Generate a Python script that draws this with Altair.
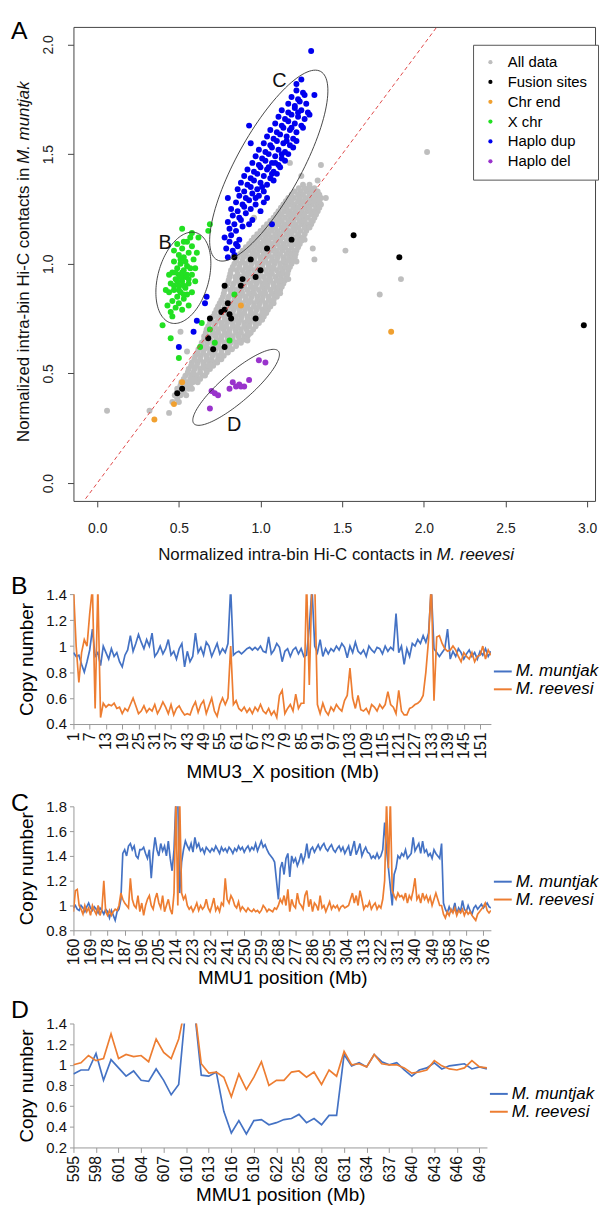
import altair as alt
import numpy as np
import pandas as pd

FONT = "Liberation Sans"

# ===================== Panel A data =====================
gray_row_y = [0.37, 0.40, 0.43, 0.46, 0.49, 0.52, 0.55, 0.58, 0.61, 0.64, 0.67, 0.70,
              0.73, 0.76, 0.79, 0.82, 0.85, 0.88, 0.91, 0.94, 0.97, 1.00, 1.03, 1.06,
              1.09, 1.12, 1.15, 1.18, 1.21, 1.24, 1.27, 1.30, 1.33, 1.36]
gray_row_x = [
    [0.46, 0.50],
    [0.475, 0.51, 0.545],
    [0.49, 0.525, 0.56, 0.58],
    [0.515, 0.55, 0.585, 0.615],
    [0.54, 0.575, 0.61, 0.645, 0.66],
    [0.56, 0.595, 0.63, 0.665, 0.69],
    [0.58, 0.615, 0.65, 0.685, 0.72, 0.735],
    [0.60, 0.635, 0.67, 0.705, 0.74, 0.775],
    [0.62, 0.655, 0.69, 0.725, 0.76, 0.795, 0.825],
    [0.64, 0.675, 0.71, 0.745, 0.78, 0.815, 0.85, 0.88],
    [0.655, 0.69, 0.725, 0.76, 0.795, 0.83, 0.865, 0.90, 0.92],
    [0.67, 0.705, 0.74, 0.775, 0.81, 0.845, 0.88, 0.915, 0.955],
    [0.69, 0.725, 0.76, 0.795, 0.83, 0.865, 0.90, 0.935, 0.97, 0.99],
    [0.71, 0.745, 0.78, 0.815, 0.85, 0.885, 0.92, 0.955, 0.99, 1.02],
    [0.73, 0.765, 0.80, 0.835, 0.87, 0.905, 0.94, 0.975, 1.01, 1.045],
    [0.75, 0.785, 0.82, 0.855, 0.89, 0.925, 0.96, 0.995, 1.03, 1.065, 1.08],
    [0.77, 0.805, 0.84, 0.875, 0.91, 0.945, 0.98, 1.015, 1.05, 1.085, 1.10],
    [0.78, 0.815, 0.85, 0.885, 0.92, 0.955, 0.99, 1.025, 1.06, 1.095, 1.12],
    [0.80, 0.835, 0.87, 0.905, 0.94, 0.975, 1.01, 1.045, 1.08, 1.115, 1.14],
    [0.81, 0.845, 0.88, 0.915, 0.95, 0.985, 1.02, 1.055, 1.09, 1.125, 1.16],
    [0.82, 0.855, 0.89, 0.925, 0.96, 0.995, 1.03, 1.065, 1.10, 1.135, 1.17],
    [0.84, 0.875, 0.91, 0.945, 0.98, 1.015, 1.05, 1.085, 1.12, 1.155, 1.19],
    [0.86, 0.895, 0.93, 0.965, 1.00, 1.035, 1.07, 1.105, 1.14, 1.175, 1.21],
    [0.89, 0.925, 0.96, 0.995, 1.03, 1.065, 1.10, 1.135, 1.17, 1.205, 1.22],
    [0.93, 0.965, 1.00, 1.035, 1.07, 1.105, 1.14, 1.175, 1.21, 1.24],
    [0.96, 0.995, 1.03, 1.065, 1.10, 1.135, 1.17, 1.205, 1.24, 1.26],
    [1.00, 1.035, 1.07, 1.105, 1.14, 1.175, 1.21, 1.245, 1.28],
    [1.04, 1.075, 1.11, 1.145, 1.18, 1.215, 1.25, 1.285, 1.31],
    [1.08, 1.115, 1.15, 1.185, 1.22, 1.255, 1.29, 1.33],
    [1.11, 1.145, 1.18, 1.215, 1.25, 1.285, 1.32, 1.35],
    [1.14, 1.175, 1.21, 1.245, 1.28, 1.315, 1.35, 1.37],
    [1.17, 1.205, 1.24, 1.275, 1.31, 1.345, 1.37],
    [1.21, 1.245, 1.28, 1.315, 1.35],
    [1.26, 1.30],
]
# second, offset layer of the dense cloud (fills the gaps between rows)
gray_row2_y = [0.385, 0.415, 0.445, 0.475, 0.505, 0.535, 0.565, 0.595, 0.625, 0.655,
               0.685, 0.715, 0.745, 0.775, 0.805, 0.835, 0.865, 0.895, 0.925, 0.955,
               0.985, 1.015, 1.045, 1.075, 1.105, 1.135, 1.165, 1.195, 1.225, 1.255,
               1.285, 1.315, 1.345]
gray_row2_x = [
    [0.49],
    [0.49, 0.53],
    [0.51, 0.545, 0.57],
    [0.53, 0.57, 0.60, 0.63],
    [0.555, 0.59, 0.63, 0.67],
    [0.575, 0.61, 0.65, 0.68, 0.71],
    [0.595, 0.63, 0.67, 0.70, 0.74, 0.76],
    [0.615, 0.65, 0.69, 0.72, 0.76, 0.80],
    [0.635, 0.67, 0.71, 0.74, 0.78, 0.81, 0.85],
    [0.655, 0.69, 0.73, 0.76, 0.80, 0.83, 0.87, 0.90],
    [0.665, 0.71, 0.74, 0.78, 0.81, 0.85, 0.88, 0.92, 0.94],
    [0.68, 0.72, 0.76, 0.79, 0.83, 0.86, 0.90, 0.93, 0.97],
    [0.70, 0.74, 0.78, 0.81, 0.85, 0.88, 0.92, 0.95, 0.99, 1.01],
    [0.72, 0.76, 0.80, 0.83, 0.87, 0.90, 0.94, 0.97, 1.01, 1.035],
    [0.74, 0.78, 0.82, 0.85, 0.89, 0.92, 0.96, 0.99, 1.03, 1.06],
    [0.76, 0.80, 0.84, 0.87, 0.91, 0.94, 0.98, 1.01, 1.05, 1.08],
    [0.775, 0.82, 0.86, 0.89, 0.93, 0.96, 1.00, 1.03, 1.07, 1.10, 1.12],
    [0.79, 0.83, 0.87, 0.90, 0.94, 0.97, 1.01, 1.04, 1.08, 1.11, 1.13],
    [0.805, 0.85, 0.89, 0.92, 0.96, 0.99, 1.03, 1.06, 1.10, 1.13, 1.15],
    [0.815, 0.86, 0.90, 0.93, 0.97, 1.00, 1.04, 1.07, 1.11, 1.14, 1.165],
    [0.83, 0.87, 0.91, 0.94, 0.98, 1.01, 1.05, 1.08, 1.12, 1.15, 1.18],
    [0.85, 0.89, 0.93, 0.96, 1.00, 1.03, 1.07, 1.10, 1.14, 1.17, 1.20],
    [0.875, 0.91, 0.95, 0.98, 1.02, 1.05, 1.09, 1.12, 1.16, 1.19, 1.215],
    [0.91, 0.945, 0.98, 1.01, 1.05, 1.08, 1.12, 1.15, 1.19, 1.23],
    [0.945, 0.98, 1.02, 1.05, 1.09, 1.12, 1.16, 1.19, 1.23, 1.25],
    [0.98, 1.02, 1.05, 1.09, 1.12, 1.16, 1.19, 1.23, 1.27],
    [1.02, 1.06, 1.09, 1.13, 1.16, 1.20, 1.23, 1.27, 1.30],
    [1.06, 1.10, 1.13, 1.17, 1.20, 1.24, 1.27, 1.31, 1.32],
    [1.095, 1.13, 1.17, 1.20, 1.24, 1.27, 1.31, 1.34],
    [1.125, 1.16, 1.20, 1.23, 1.27, 1.30, 1.34, 1.36],
    [1.155, 1.19, 1.23, 1.26, 1.30, 1.33, 1.36],
    [1.19, 1.23, 1.26, 1.30, 1.33, 1.36],
    [1.235, 1.27, 1.30, 1.33],
]
gray_extra = [(0.06, 0.33), (0.32, 0.33), (0.44, 0.32), (2.02, 1.51), (1.52, 1.06),
              (1.86, 0.93), (1.73, 0.86), (1.37, 1.45), (1.18, 1.46), (0.96, 1.21),
              (1.32, 1.07), (1.33, 1.02), (0.92, 0.65), (0.51, 0.69), (1.35, 1.38),
              (0.93, 0.68), (0.99, 0.74), (1.10, 0.86), (1.17, 0.93), (1.22, 1.01),
              (1.27, 1.11), (0.64, 0.62), (0.59, 0.50), (0.55, 0.60), (1.40, 1.30),
              (1.25, 1.40)]

xchr_pts = [(0.55, 1.10), (0.58, 1.08), (0.52, 1.07), (0.56, 1.05), (0.50, 1.04),
            (0.53, 1.03), (0.59, 1.02), (0.47, 1.01), (0.51, 1.00), (0.55, 0.99),
            (0.49, 0.98), (0.53, 0.97), (0.57, 0.98), (0.46, 0.96), (0.50, 0.95),
            (0.54, 0.94), (0.58, 0.95), (0.48, 0.93), (0.52, 0.92), (0.56, 0.91),
            (0.45, 0.91), (0.50, 0.90), (0.54, 0.89), (0.47, 0.88), (0.51, 0.87),
            (0.55, 0.86), (0.44, 0.87), (0.49, 0.85), (0.53, 0.84), (0.46, 0.83),
            (0.50, 0.82), (0.43, 0.81), (0.48, 0.80), (0.45, 0.78), (0.52, 0.79),
            (0.60, 0.92), (0.61, 1.05), (0.47, 1.06), (0.49, 1.09), (0.53, 1.10),
            (0.57, 1.12), (0.44, 0.95), (0.42, 0.88), (0.58, 0.87), (0.56, 0.81),
            (0.60, 0.98), (0.51, 0.94), (0.53, 0.90), (0.49, 0.92), (0.55, 0.95),
            (0.52, 0.96), (0.50, 0.88), (0.54, 1.01), (0.48, 0.96), (0.56, 0.93),
            (0.51, 1.02), (0.53, 0.86), (0.47, 0.90), (0.52, 1.16), (0.62, 1.12),
            (0.68, 1.15), (0.69, 1.18), (0.40, 0.72), (0.45, 0.66), (0.50, 0.57),
            (0.69, 0.70), (0.63, 0.62), (0.72, 0.64), (0.81, 0.65), (0.84, 0.86),
            (0.58, 1.14), (0.64, 0.73), (0.46, 0.76)]

dup_pts = [(0.80, 1.03), (0.84, 1.04), (0.79, 1.07), (0.83, 1.06), (0.86, 1.08),
           (0.81, 1.10), (0.85, 1.09), (0.78, 1.12), (0.82, 1.13), (0.87, 1.11),
           (0.81, 1.16), (0.85, 1.15), (0.89, 1.17), (0.80, 1.19), (0.84, 1.18),
           (0.88, 1.20), (0.93, 1.18), (0.83, 1.22), (0.87, 1.21), (0.91, 1.23),
           (0.95, 1.20), (0.82, 1.25), (0.86, 1.24), (0.90, 1.26), (0.94, 1.25),
           (1.00, 1.24), (0.85, 1.28), (0.89, 1.27), (0.93, 1.29), (0.97, 1.27),
           (1.02, 1.28), (0.80, 1.30), (0.87, 1.31), (0.91, 1.30), (0.95, 1.32),
           (0.99, 1.31), (1.04, 1.30), (0.86, 1.34), (0.90, 1.33), (0.94, 1.35),
           (0.98, 1.34), (1.02, 1.33), (0.88, 1.37), (0.92, 1.36), (0.96, 1.38),
           (1.00, 1.37), (1.04, 1.36), (1.08, 1.38), (0.90, 1.40), (0.94, 1.39),
           (0.98, 1.41), (1.02, 1.40), (1.06, 1.39), (1.10, 1.41), (0.92, 1.43),
           (0.96, 1.42), (1.00, 1.44), (1.04, 1.43), (1.08, 1.42), (1.12, 1.44),
           (0.95, 1.46), (0.99, 1.45), (1.03, 1.47), (1.07, 1.46), (1.11, 1.45),
           (1.15, 1.47), (0.97, 1.49), (1.01, 1.48), (1.05, 1.50), (1.09, 1.49),
           (1.13, 1.48), (1.17, 1.50), (0.99, 1.52), (1.03, 1.51), (1.07, 1.53),
           (1.11, 1.52), (1.15, 1.51), (1.20, 1.53), (0.94, 1.55), (1.02, 1.55),
           (1.06, 1.54), (1.10, 1.56), (1.14, 1.55), (1.18, 1.54), (1.22, 1.56),
           (1.04, 1.58), (1.08, 1.57), (1.12, 1.59), (1.16, 1.58), (1.20, 1.57),
           (1.06, 1.61), (1.10, 1.60), (1.14, 1.62), (1.18, 1.61), (1.22, 1.60),
           (1.26, 1.62), (0.93, 1.63), (1.09, 1.64), (1.13, 1.63), (1.17, 1.65),
           (1.21, 1.64), (1.25, 1.63), (1.11, 1.67), (1.15, 1.66), (1.19, 1.68),
           (1.23, 1.67), (1.27, 1.66), (1.30, 1.68), (1.13, 1.70), (1.17, 1.69),
           (1.21, 1.71), (1.25, 1.70), (1.29, 1.69), (1.17, 1.73), (1.21, 1.72),
           (1.24, 1.74), (1.28, 1.73), (1.19, 1.76), (1.23, 1.75), (1.27, 1.77),
           (1.33, 1.77), (1.22, 1.79), (1.26, 1.78), (1.22, 1.82), (1.25, 1.84),
           (1.31, 1.97), (1.05, 1.44), (1.09, 1.46), (1.13, 1.50), (1.07, 1.41),
           (1.01, 1.35), (0.97, 1.30), (1.16, 1.56), (1.19, 1.62), (1.23, 1.69),
           (1.07, 1.18), (0.66, 0.82), (0.67, 0.85), (0.61, 0.74), (0.59, 0.69),
           (0.50, 0.62)]

del_pts = [(0.99, 0.56), (1.03, 0.55), (0.93, 0.47), (0.83, 0.46), (0.85, 0.44),
           (0.88, 0.44), (0.90, 0.44), (0.81, 0.43), (0.87, 0.45), (0.70, 0.42),
           (0.74, 0.40), (0.72, 0.41), (0.69, 0.34)]

chrend_pts = [(1.80, 0.69), (0.88, 0.81), (0.52, 0.46), (0.47, 0.36), (0.35, 0.29)]

fusion_pts = [(1.57, 1.13), (1.85, 1.03), (1.19, 1.11), (1.04, 1.07), (0.94, 1.02),
              (0.84, 1.03), (1.00, 0.97), (0.97, 0.94), (0.89, 0.93), (0.88, 0.90),
              (0.78, 0.90), (0.80, 0.82), (0.76, 0.78), (0.78, 0.79), (0.81, 0.77),
              (0.82, 0.75), (0.69, 0.75), (0.97, 0.75), (0.68, 0.66), (0.71, 0.61),
              (0.78, 0.62), (0.52, 0.43), (0.49, 0.41), (2.98, 0.72)]

groups = ["All data", "Fusion sites", "Chr end", "X chr", "Haplo dup", "Haplo del"]
group_colors = ["#BEBEBE", "#000000", "#F0A030", "#22E022", "#0000EE", "#9933CC"]

# ellipses drawn around groups B, C, D (center, semi-axis vectors in data units)
ell_names = ["C", "B", "D"]
ell_cx = [1.0505, 0.5275, 0.8505]
ell_cy = [1.4475, 0.936, 0.4365]
ell_ax = [0.3175, 0.0765, 0.2585]
ell_ay = [0.4295, 0.206, 0.1655]
ell_bx = [0.174, 0.150, 0.0594]
ell_by = [-0.0713, -0.0309, -0.0514]
ell_lab_x = [1.116, 0.416, 0.839]
ell_lab_y = [1.831, 1.093, 0.264]

# ===================== Panel B data (MMU3_X) =====================
b_pos = list(range(1, 156))
b_mj = [0.95, 0.92, 0.93, 0.86, 0.80, 0.88, 0.97, 1.13, 0.92, 0.95,
        0.85, 1.00, 0.95, 0.90, 0.98, 0.92, 0.95, 0.88, 0.84, 0.93,
        0.97, 1.08, 0.96, 1.02, 1.09, 1.03, 0.98, 1.05, 1.00, 1.10,
        0.92, 0.95, 1.00, 0.94, 0.98, 1.05, 0.93, 0.96, 0.90, 0.98,
        1.02, 0.84, 0.96, 0.88, 0.92, 1.10, 0.95, 0.99, 0.93, 1.03,
        1.00, 0.92, 0.97, 1.02, 0.94, 0.98, 0.95, 1.02, 1.45, 0.93,
        0.95, 0.96, 0.94, 0.96, 0.98, 0.99, 0.97, 0.99, 0.97, 1.00,
        0.96, 0.95, 1.07, 0.94, 0.97, 1.02, 0.99, 0.88, 0.96, 0.98,
        0.92, 0.97, 0.99, 0.94, 0.98, 0.92, 0.93, 1.15, 1.45, 1.00,
        0.95, 1.05, 0.92, 0.98, 0.94, 0.98, 0.96, 1.00, 0.97, 1.02,
        0.99, 0.91, 1.00, 0.95, 1.03, 0.96, 0.94, 0.97, 0.92, 1.00,
        0.97, 0.95, 0.99, 0.98, 0.94, 1.00, 0.96, 0.99, 0.97, 1.25,
        0.95, 1.00, 0.86, 0.98, 0.92, 1.02, 1.00, 1.05, 1.02, 1.08,
        1.03, 1.10, 1.45, 0.98, 0.95, 0.92, 0.95, 0.98, 1.13, 0.90,
        0.96, 0.92, 0.98, 0.95, 0.90, 0.94, 0.97, 0.92, 0.95, 0.90,
        0.96, 0.93, 0.98, 0.92, 0.96]
b_rv = [1.45, 1.00, 0.72, 0.95, 1.05, 1.00, 1.25, 1.45, 0.52, 1.45,
        0.45, 0.56, 0.53, 0.55, 0.54, 0.56, 0.52, 0.53, 0.48, 0.52,
        0.50, 0.55, 0.60, 0.54, 0.48, 0.50, 0.54, 0.49, 0.52, 0.50,
        0.55, 0.48, 0.52, 0.57, 0.53, 0.48, 0.55, 0.47, 0.52, 0.54,
        0.50, 0.47, 0.48, 0.47, 0.53, 0.57, 0.49, 0.55, 0.58, 0.48,
        0.54, 0.60, 0.50, 0.46, 0.55, 0.60, 0.55, 0.60, 1.00, 0.55,
        0.58, 0.52, 0.50, 0.53, 0.49, 0.52, 0.48, 0.53, 0.50, 0.55,
        0.50, 0.48, 0.52, 0.47, 0.50, 0.45, 0.62, 0.66, 0.48, 0.52,
        0.55, 0.50, 0.63, 0.52, 0.56, 0.56, 1.50, 0.70, 1.50, 1.50,
        0.55, 0.48, 0.56, 0.50, 0.47, 0.53, 0.50, 0.55, 0.52, 0.50,
        0.58, 0.62, 0.83, 0.60, 0.52, 0.62, 0.51, 0.50, 0.52, 0.48,
        0.55, 0.53, 0.50, 0.55, 0.52, 0.55, 0.65, 0.55, 0.53, 0.48,
        0.66, 0.50, 0.47, 0.47, 0.52, 0.53, 0.55, 0.56, 0.58, 0.62,
        0.80, 1.05, 1.50, 0.58, 1.07, 1.08, 1.02, 0.98, 0.96, 0.97,
        1.00, 0.97, 0.92, 0.88, 0.95, 0.92, 0.90, 0.95, 0.88, 0.92,
        0.93, 1.00, 0.90, 0.97, 0.93]
b_ticks = [1, 7, 13, 19, 25, 31, 37, 43, 49, 55, 61, 67, 73, 79, 85, 91, 97, 103,
           109, 115, 121, 127, 133, 139, 145, 151]

# ===================== Panel C data (MMU1 160-380) =====================
c_pos = list(range(160, 381))
c_mj = [0.98, 1.00, 0.97, 0.96, 1.00, 0.98, 0.95, 0.99, 1.02, 0.98,
        0.96, 0.99, 0.97, 0.94, 0.98, 0.96, 0.93, 0.97, 0.95, 0.90,
        0.96, 0.92, 0.88, 0.95, 0.97, 1.05, 1.42, 1.45, 1.40, 1.48,
        1.50, 1.45, 1.48, 1.40, 1.38, 1.45, 1.45, 1.47, 1.42, 1.38,
        1.45, 1.22, 1.42, 1.55, 1.45, 1.40, 1.50, 1.44, 1.48, 1.40,
        1.52, 1.38, 1.28, 1.45, 1.85, 1.85, 1.10, 1.35, 1.45, 1.52,
        1.48, 1.45, 1.50, 1.43, 1.55, 1.47, 1.50, 1.44, 1.46, 1.42,
        1.47, 1.45, 1.43, 1.46, 1.44, 1.48, 1.45, 1.42, 1.47, 1.44,
        1.46, 1.43, 1.47, 1.45, 1.42, 1.46, 1.44, 1.48, 1.45, 1.47,
        1.43, 1.46, 1.48, 1.44, 1.47, 1.45, 1.50, 1.44, 1.48, 1.52,
        1.47, 1.49, 1.45, 1.42, 1.40, 1.38, 1.35, 1.20, 1.05, 1.30,
        1.35, 1.25, 1.38, 1.42, 1.23, 1.40, 1.35, 1.38, 1.32, 1.36,
        1.42, 1.35, 1.40, 1.50, 1.38, 1.45, 1.47, 1.43, 1.46, 1.49,
        1.45, 1.48, 1.50, 1.46, 1.44, 1.47, 1.49, 1.45, 1.43, 1.46,
        1.48, 1.44, 1.47, 1.42, 1.45, 1.48, 1.40, 1.46, 1.52, 1.41,
        1.45, 1.50, 1.40, 1.44, 1.47, 1.43, 1.42, 1.38, 1.40, 1.38,
        1.42, 1.38, 1.40, 1.45, 1.67, 1.45, 1.30, 1.15, 1.00, 1.25,
        1.30, 1.40, 1.38, 1.42, 1.40, 1.45, 1.38, 1.40, 1.42, 1.55,
        1.44, 1.47, 1.50, 1.42, 1.52, 1.43, 1.45, 1.40, 1.42, 1.38,
        1.45, 1.42, 1.40, 1.38, 1.50, 1.02, 0.97, 0.94, 0.99, 0.95,
        0.96, 1.02, 0.93, 0.98, 0.95, 1.04, 0.97, 0.95, 1.00, 0.96,
        0.93, 0.98, 1.00, 0.97, 0.99, 1.01, 0.98, 1.00, 1.02, 0.99,
        0.98]
c_rv = [0.95, 1.12, 1.13, 1.00, 0.97, 0.93, 1.00, 0.95, 0.98, 0.92,
        1.00, 0.96, 0.93, 1.00, 0.92, 0.97, 1.20, 0.95, 0.92, 0.96,
        0.92, 0.95, 0.97, 0.96, 1.00, 1.10, 1.05, 1.02, 1.00, 0.98,
        1.22, 1.05, 1.00, 0.98, 1.08, 0.95, 1.02, 0.92, 1.00, 1.05,
        1.08, 1.00, 0.97, 1.05, 1.10, 1.02, 0.98, 1.08, 0.95, 1.00,
        1.05, 0.97, 0.93, 1.10, 1.85, 1.00, 1.85, 1.10, 1.05, 1.08,
        1.00, 0.97, 0.99, 0.95, 0.98, 1.02, 0.96, 1.00, 0.97, 0.99,
        1.05, 0.98, 0.95, 1.00, 1.06, 0.96, 0.99, 0.95, 1.02, 1.00,
        1.22, 1.05, 1.02, 1.08, 1.05, 1.00, 0.98, 1.03, 0.96, 0.99,
        0.97, 0.95, 0.98, 0.96, 0.95, 0.97, 0.95, 0.96, 0.94, 0.96,
        1.00, 0.98, 0.95, 0.97, 0.96, 0.95, 0.98, 0.97, 1.00, 1.05,
        1.02, 1.08, 1.00, 1.13, 0.95, 1.05, 1.00, 0.98, 1.10, 1.02,
        1.00, 0.97, 1.08, 1.12, 0.99, 1.05, 0.95, 1.02, 1.00, 0.96,
        1.08, 0.98, 1.00, 0.95, 0.99, 1.03, 0.97, 1.00, 0.98, 1.00,
        0.96, 0.99, 1.00, 0.98, 0.99, 1.00, 1.05, 1.10, 1.02, 1.08,
        1.00, 1.12, 1.05, 0.97, 1.00, 0.99, 1.03, 0.97, 1.00, 1.02,
        0.97, 1.00, 0.98, 1.05, 1.20, 1.85, 1.30, 1.85, 1.12, 1.08,
        1.05, 1.10, 1.07, 1.08, 1.05, 1.10, 1.02, 1.08, 1.05, 1.12,
        1.22, 1.05, 1.08, 1.02, 1.10, 1.05, 1.08, 1.03, 1.07, 1.00,
        1.05, 1.10, 1.05, 1.00, 1.00, 0.93, 0.90, 0.95, 0.92, 0.97,
        0.94, 0.98, 0.92, 0.96, 0.94, 0.97, 0.92, 0.96, 0.93, 0.95,
        0.92, 0.90, 0.88, 0.93, 0.95, 0.97, 0.99, 1.02, 0.96, 0.94,
        0.96]
c_ticks = [160, 169, 178, 187, 196, 205, 214, 223, 232, 241, 250, 259, 268, 277,
           286, 295, 304, 313, 322, 331, 340, 349, 358, 367, 376]

# ===================== Panel D data (MMU1 595-650) =====================
d_pos = list(range(595, 651))
d_mj = [0.91, 0.95, 0.95, 1.11, 0.85, 1.05, 0.97, 0.89, 0.94, 0.85,
        0.84, 0.96, 0.85, 0.71, 0.81, 1.60, 1.60, 0.90, 0.89, 0.93,
        0.55, 0.34, 0.46, 0.33, 0.46, 0.47, 0.42, 0.44, 0.47, 0.48,
        0.52, 0.44, 0.48, 0.42, 0.51, 0.51, 1.10, 0.99, 1.02, 0.98,
        1.10, 1.03, 1.00, 1.02, 0.95, 0.89, 0.95, 0.97, 1.02, 0.96,
        0.99, 1.00, 1.01, 0.96, 0.98, 0.96]
d_rv = [1.00, 1.02, 1.09, 1.04, 1.06, 1.30, 1.06, 1.10, 1.08, 1.09,
        1.03, 1.25, 1.12, 1.06, 1.25, 1.60, 1.60, 1.01, 0.92, 0.93,
        0.88, 0.69, 0.91, 0.76, 0.88, 1.03, 0.80, 0.85, 0.85, 0.93,
        0.94, 0.88, 0.93, 0.81, 0.95, 0.89, 1.13, 1.00, 1.01, 0.98,
        1.10, 1.01, 1.00, 1.00, 0.97, 0.92, 0.93, 0.95, 1.04, 0.99,
        0.96, 0.95, 0.97, 1.04, 0.98, 0.97]
d_ticks = [595, 598, 601, 604, 607, 610, 613, 616, 619, 622, 625, 628, 631, 634,
           637, 640, 643, 646, 649]

species = ["M. muntjak", "M. reevesi"]
species_colors = ["#4472C4", "#ED7D31"]

# ===================== Build Panel A =====================
WA, HA = 526, 478
rows = []
for ry, rx in [(gray_row_y, gray_row_x), (gray_row2_y, gray_row2_x)]:
    for yv, xs in zip(ry, rx):
        for xv in xs:
            rows.append((xv, yv, "All data"))
for xv, yv in gray_extra:
    rows.append((xv, yv, "All data"))
for name, pts in [("X chr", xchr_pts), ("Haplo dup", dup_pts), ("Haplo del", del_pts),
                  ("Chr end", chrend_pts), ("Fusion sites", fusion_pts)]:
    for xv, yv in pts:
        rows.append((xv, yv, name))
pts_df = pd.DataFrame(rows, columns=["x", "y", "group"])

xs_a = alt.Scale(domain=[-0.1457, 3.0486], nice=False, zero=False)
ys_a = alt.Scale(domain=[-0.0814, 2.080], nice=False, zero=False)
x_axis_a = alt.Axis(values=[0, 0.5, 1, 1.5, 2, 2.5, 3], format=".1f", title=None,
                    grid=False, domain=False, tickSize=6, tickColor="#444",
                    labelFontSize=14, labelPadding=15, labelFlush=False,
                    labelOverlap=False, labelColor="#222")
y_axis_a = alt.Axis(values=[0, 0.5, 1, 1.5, 2], format=".1f", title=None,
                    grid=False, domain=False, tickSize=6, tickColor="#444",
                    labelFontSize=14, labelPadding=12, labelAngle=270,
                    labelAlign="center", labelBaseline="bottom", labelFlush=False,
                    labelOverlap=False, labelColor="#222")
XA = alt.X("x:Q", scale=xs_a, axis=x_axis_a)
YA = alt.Y("y:Q", scale=ys_a, axis=y_axis_a)

scatter = alt.Chart(pts_df).mark_circle(size=36, opacity=1).encode(
    x=XA, y=YA,
    color=alt.Color("group:N",
                    scale=alt.Scale(domain=groups, range=group_colors),
                    legend=alt.Legend(title=None, orient="none", legendX=403, legendY=18,
                                      strokeColor="#555", fillColor="white", padding=10,
                                      symbolType="circle", symbolSize=18,
                                      labelFontSize=15, labelOffset=10, rowPadding=4,
                                      labelFont=FONT, labelColor="black",
                                      labelFontStyle="normal")),
)

diag_df = pd.DataFrame({"x": [-0.3, 2.3], "y": [-0.3, 2.3]})
diag = alt.Chart(diag_df).mark_line(clip=True, color="#E04848", strokeWidth=1,
                                    strokeDash=[4, 3]).encode(x=XA, y=YA)

t = np.linspace(0, 2 * np.pi, 121)
ell_rows = []
for i, nm in enumerate(ell_names):
    ex = ell_cx[i] + ell_ax[i] * np.cos(t) + ell_bx[i] * np.sin(t)
    ey = ell_cy[i] + ell_ay[i] * np.cos(t) + ell_by[i] * np.sin(t)
    for k in range(len(t)):
        ell_rows.append((nm, k, float(ex[k]), float(ey[k])))
ell_df = pd.DataFrame(ell_rows, columns=["e", "k", "x", "y"])
ellipses = alt.Chart(ell_df).mark_line(color="#333", strokeWidth=0.9).encode(
    x=XA, y=YA, detail="e:N", order="k:Q")

lab_df = pd.DataFrame({"x": ell_lab_x, "y": ell_lab_y, "t": ell_names})
ell_labels = alt.Chart(lab_df).mark_text(fontSize=20, font=FONT, color="#111").encode(
    x=XA, y=YA, text="t:N")

LETTER_X = -63
letter_a = alt.Chart(pd.DataFrame({"t": ["A"]})).mark_text(
    fontSize=25, font=FONT, align="left", baseline="top", color="black").encode(
    x=alt.value(LETTER_X), y=alt.value(-8), text="t:N")
xt1 = alt.Chart(pd.DataFrame({"t": ["Normalized intra-bin Hi-C contacts in"]})).mark_text(
    fontSize=17, font=FONT, align="right", baseline="middle", color="#111").encode(
    x=alt.value(362), y=alt.value(HA + 55), text="t:N")
xt2 = alt.Chart(pd.DataFrame({"t": ["M. reevesi"]})).mark_text(
    fontSize=17, font=FONT, align="left", baseline="middle", fontStyle="italic",
    color="#111").encode(x=alt.value(366), y=alt.value(HA + 55), text="t:N")
yt1 = alt.Chart(pd.DataFrame({"t": ["Normalized intra-bin Hi-C contacts in"]})).mark_text(
    fontSize=17, font=FONT, align="right", baseline="middle", angle=270,
    color="#111").encode(x=alt.value(-50), y=alt.value(142), text="t:N")
yt2 = alt.Chart(pd.DataFrame({"t": ["M. muntjak"]})).mark_text(
    fontSize=17, font=FONT, align="left", baseline="middle", angle=270,
    fontStyle="italic", color="#111").encode(x=alt.value(-50), y=alt.value(138), text="t:N")

panel_a = alt.layer(scatter, diag, ellipses, ell_labels, letter_a, xt1, xt2, yt1, yt2).properties(
    width=WA, height=HA, view=alt.ViewBackground(stroke="#444", strokeWidth=1))


# ===================== Line panels =====================
def line_panel(pos, mj, rv, ticks, xdom, ydom, yticks, xtitle, letter, w, h,
               letter_y, leg_y):
    df = pd.DataFrame({"pos": list(pos) * 2, "cn": list(mj) + list(rv),
                       "sp": [species[0]] * len(pos) + [species[1]] * len(pos)})
    lines = alt.Chart(df).mark_line(clip=True, strokeWidth=1.7).encode(
        x=alt.X("pos:Q", scale=alt.Scale(domain=xdom, nice=False, zero=False),
                axis=alt.Axis(values=ticks, title=xtitle, labelAngle=270,
                              labelAlign="right", labelBaseline="middle",
                              labelFontSize=16, labelPadding=3, tickSize=5,
                              tickColor="#999", domainColor="#999", grid=False,
                              titleFontSize=19, titleFontWeight="normal",
                              titlePadding=4, labelFlush=False, labelOverlap=False,
                              titleColor="black", labelColor="#111")),
        y=alt.Y("cn:Q", scale=alt.Scale(domain=ydom, nice=False, zero=False),
                axis=alt.Axis(values=yticks, format="~g", title="Copy number",
                              tickSize=4, labelPadding=3, labelFontSize=15,
                              titleFontSize=19, titleFontWeight="normal",
                              titlePadding=9, domainColor="#999", tickColor="#999",
                              grid=False, labelFlush=False, labelOverlap=False,
                              titleColor="black", labelColor="#111")),
        color=alt.Color("sp:N", scale=alt.Scale(domain=species, range=species_colors),
                        legend=alt.Legend(title=None, orient="none", legendX=w + 2,
                                          legendY=leg_y, symbolType="stroke",
                                          symbolSize=324, symbolStrokeWidth=2,
                                          labelFontStyle="italic", labelFontSize=17,
                                          labelOffset=3, rowPadding=0, padding=0,
                                          labelFont=FONT, labelColor="black")),
    )
    let = alt.Chart(pd.DataFrame({"t": [letter]})).mark_text(
        fontSize=25, font=FONT, align="left", baseline="top", color="black").encode(
        x=alt.value(LETTER_X), y=alt.value(letter_y), text="t:N")
    return alt.layer(lines, let).properties(width=w, height=h)


panel_b = line_panel(b_pos, b_mj, b_rv, b_ticks, [1, 155], [0.4, 1.4],
                     [0.4, 0.6, 0.8, 1.0, 1.2, 1.4], "MMU3_X position (Mb)", "B",
                     421, 131, -20, 68)
panel_c = line_panel(c_pos, c_mj, c_rv, c_ticks, [160, 380], [0.8, 1.8],
                     [0.8, 1.0, 1.2, 1.4, 1.6, 1.8], "MMU1 position (Mb)", "C",
                     421, 125, -15, 66)
panel_d = line_panel(d_pos, d_mj, d_rv, d_ticks, [595, 650], [0.2, 1.4],
                     [0.2, 0.4, 0.6, 0.8, 1.0, 1.2, 1.4], "MMU1 position (Mb)", "D",
                     417, 125, -26, 61)

chart = alt.vconcat(panel_a, panel_b, panel_c, panel_d, spacing=10).resolve_scale(
    color="independent").resolve_legend(color="independent").properties(
    padding={"left": 2, "top": 5, "right": 0, "bottom": 0}
).configure(font=FONT).configure_view(stroke=None).configure_axis(
    labelFont=FONT, titleFont=FONT)

chart.save("out.html", embed_options={"renderer": "svg", "actions": False})
